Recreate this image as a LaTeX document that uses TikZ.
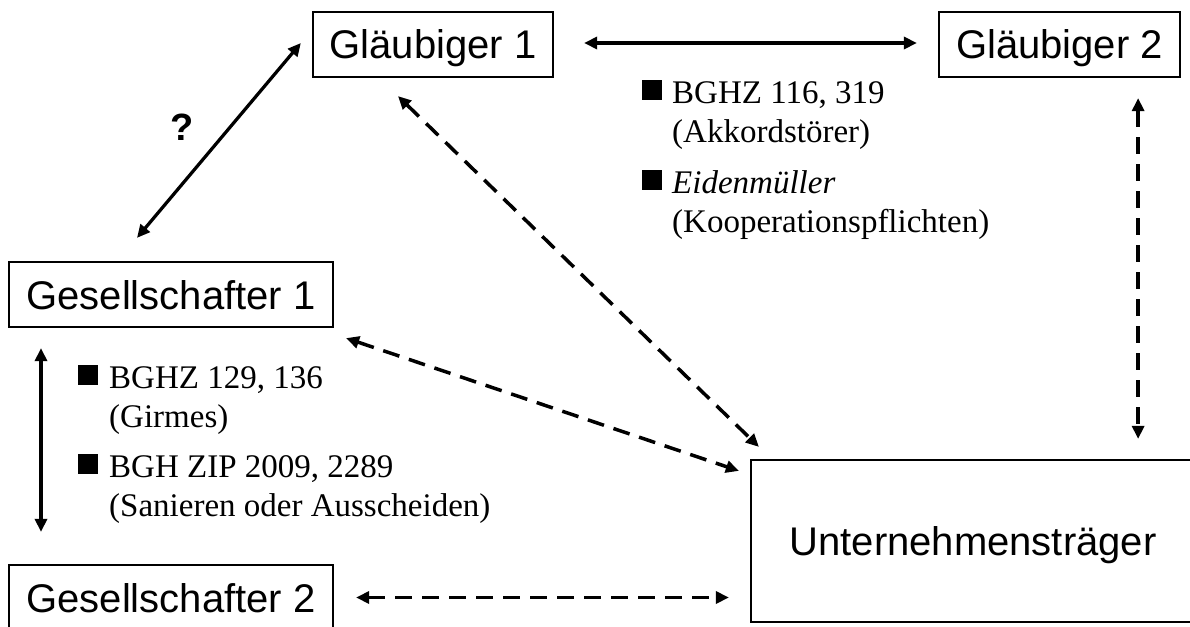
\documentclass[tikz,border=0pt]{standalone}
\usepackage{fontspec}
\setmainfont{Liberation Serif}
\newfontfamily\arialf{Liberation Sans}
\usetikzlibrary{arrows.meta,calc}
\begin{document}
\begin{tikzpicture}[x=1pt,y=-1pt,
  box/.style={draw,line width=2.25pt,inner sep=0pt,text height=29pt,text depth=0pt,font=\arialf\fontsize{40}{48}\selectfont},
  solidarr/.style={line width=3.25pt,{Triangle[length=13pt,width=12pt]}-{Triangle[length=13pt,width=12pt]}},
  dasharr/.style={line width=3.5pt,{Triangle[length=13pt,width=12pt]}-{Triangle[length=13pt,width=12pt]},dash pattern=on 17pt off 10pt},
  refs/.style={inner sep=0pt,anchor=base west,font=\fontsize{33}{39}\selectfont}]
\clip (0,0) rectangle (1190,626);
\fill[white] (0,0) rectangle (1190,626);
\node[box,minimum width=240pt,minimum height=65pt] (g1) at (433,44.5) {Gläubiger 1};
\node[box,minimum width=241pt,minimum height=65pt] (g2) at (1059.5,44.5) {Gläubiger 2};
\node[box,minimum width=324pt,minimum height=65pt] (ges1) at (171,294.5) {Gesellschafter 1};
\node[box,minimum width=324pt,minimum height=65pt] (ges2) at (171,597.5) {Gesellschafter 2};
\node[box,minimum width=444pt,minimum height=162pt] (ut) at (973,541) {Unternehmensträger};
\node[inner sep=0pt,font=\arialf\bfseries\fontsize{38}{44}\selectfont] (q) at (182,127) {?};
\node[refs] (r1) at (642,103) {\begin{tabular}[t]{@{}l@{\hspace{10pt}}l@{}}\rule[3pt]{20pt}{20pt} & BGHZ 116, 319\\ & (Akkordstörer)\\[12pt] \rule[3pt]{20pt}{20pt} & \textit{Eidenmüller}\\ & (Kooperationspflichten)\end{tabular}};
\node[refs] (r2) at (78,388) {\begin{tabular}[t]{@{}l@{\hspace{11pt}}l@{}}\rule[3pt]{20pt}{20pt} & BGHZ 129, 136\\ & (Girmes)\\[11pt] \rule[3pt]{20pt}{20pt} & BGH ZIP 2009, 2289\\ & (Sanieren oder Ausscheiden)\end{tabular}};
\draw[solidarr] ($(g1.east)+(30,-1.5)$) -- ($(g2.west)+(-21,-1.5)$);
\draw[solidarr] ($(ges1.north)+(-34,-23)$) -- ($(g1.west)+(-11,-1.5)$);
\draw[solidarr] ($(ges1.south)+(-130,20)$) -- ($(ges2.north)+(-130,-32)$);
\draw[dasharr] ($(g1.south)+(-35,18)$) -- ($(ut.north west)+(9,-12)$);
\draw[dasharr] ($(ges1.south east)+(12,10)$) -- ($(ut.north west)+(-11,12)$);
\draw[dasharr] ($(ges2.east)+(22,0)$) -- ($(ges2.east -| ut.west)+(-21,0)$);
\draw[dasharr] ($(g2.south east)+(-43,20)$) -- ($(g2.south east |- ut.north)+(-43,-20)$);
\end{tikzpicture}
\end{document}
